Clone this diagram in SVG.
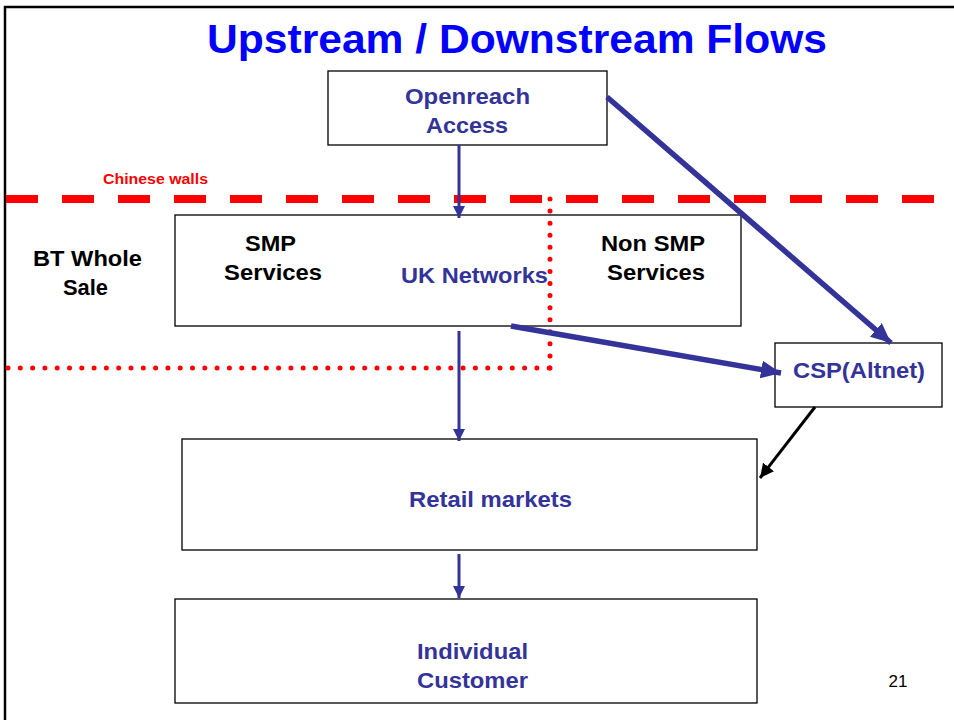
<svg xmlns="http://www.w3.org/2000/svg" width="954" height="720" viewBox="0 0 954 720">
<style>
.box{fill:#fff;stroke:#000;stroke-width:1.3}
.t{font-family:"Liberation Sans",Arial,sans-serif;font-weight:bold;font-size:22px;text-anchor:middle}
.blue{fill:#333399}
.blk{fill:#000}
.con{stroke:#333399;fill:none}
</style>
<defs>
<marker id="ah" markerUnits="userSpaceOnUse" markerWidth="14" markerHeight="12" refX="12" refY="6" orient="auto"><path d="M0,0 L12,6 L0,12 z" fill="#333399"/></marker>
<marker id="ahb" markerUnits="userSpaceOnUse" markerWidth="22" markerHeight="18" refX="20" refY="9" orient="auto"><path d="M0,0 L20,9 L0,18 z" fill="#333399"/></marker>
<marker id="ahk" markerUnits="userSpaceOnUse" markerWidth="16" markerHeight="14" refX="14" refY="7" orient="auto"><path d="M0,0 L14,7 L0,14 z" fill="#000"/></marker>
</defs>
<rect width="954" height="720" fill="#fff"/>
<path d="M5,720 V7 H954" fill="none" stroke="#000" stroke-width="2.5"/>
<text x="517" y="53" font-family="Liberation Sans,Arial,sans-serif" font-weight="bold" font-size="40" fill="#0000FF" text-anchor="middle" textLength="620" lengthAdjust="spacingAndGlyphs">Upstream / Downstream Flows</text>
<g id="bt-wholesale"><text class="t blk" x="87.5" y="266" textLength="109" lengthAdjust="spacingAndGlyphs">BT Whole</text><text class="t blk" x="85.5" y="295" textLength="45" lengthAdjust="spacingAndGlyphs">Sale</text></g>
<g id="openreach"><rect class="box" x="328" y="71" width="279" height="74"/><text class="t blue" x="467.5" y="104" textLength="125" lengthAdjust="spacingAndGlyphs">Openreach</text><text class="t blue" x="467" y="133" textLength="82" lengthAdjust="spacingAndGlyphs">Access</text></g>
<g id="uk-networks"><rect class="box" x="175" y="215" width="566" height="111"/>
<text class="t blk" x="270.5" y="251" textLength="51" lengthAdjust="spacingAndGlyphs">SMP</text><text class="t blk" x="273" y="280" textLength="98" lengthAdjust="spacingAndGlyphs">Services</text>
<text class="t blue" x="474.5" y="283" textLength="147" lengthAdjust="spacingAndGlyphs">UK Networks</text>
<text class="t blk" x="653" y="251" textLength="104" lengthAdjust="spacingAndGlyphs">Non SMP</text><text class="t blk" x="656" y="280" textLength="98" lengthAdjust="spacingAndGlyphs">Services</text></g>
<g id="csp"><rect class="box" x="775" y="343" width="167" height="64"/><text class="t blue" x="859" y="378" textLength="132" lengthAdjust="spacingAndGlyphs">CSP(Altnet)</text></g>
<g id="retail"><rect class="box" x="182" y="439" width="575" height="111"/><text class="t blue" x="490.5" y="507" textLength="163" lengthAdjust="spacingAndGlyphs">Retail markets</text></g>
<g id="customer"><rect class="box" x="175" y="599" width="582" height="104"/><text class="t blue" x="472.5" y="659" textLength="111" lengthAdjust="spacingAndGlyphs">Individual</text><text class="t blue" x="472.5" y="688" textLength="111" lengthAdjust="spacingAndGlyphs">Customer</text></g>
<text x="898" y="687" font-family="Liberation Sans,Arial,sans-serif" font-size="17" fill="#000" text-anchor="middle">21</text>
<g id="walls">
<text x="155.5" y="184" font-family="Liberation Sans,Arial,sans-serif" font-weight="bold" font-size="14" fill="#FF0000" text-anchor="middle" textLength="105" lengthAdjust="spacingAndGlyphs">Chinese walls</text>
<line x1="6" y1="199" x2="934" y2="199" stroke="#FF0000" stroke-width="8" stroke-dasharray="32 24"/>
<line x1="550" y1="199" x2="550" y2="368" stroke="#FF0000" stroke-width="5" stroke-linecap="round" stroke-dasharray="0 12.07"/>
<line x1="8" y1="368" x2="550" y2="368" stroke="#FF0000" stroke-width="5" stroke-linecap="round" stroke-dasharray="0 12.3"/>
</g>
<g id="connectors">
<line class="con" x1="459" y1="145" x2="459" y2="218" stroke-width="3" marker-end="url(#ah)"/>
<line class="con" x1="459" y1="331" x2="459" y2="441" stroke-width="3" marker-end="url(#ah)"/>
<line class="con" x1="459" y1="554" x2="459" y2="598" stroke-width="3" marker-end="url(#ah)"/>
<line class="con" x1="511" y1="326" x2="781" y2="373" stroke-width="5.5" marker-end="url(#ahb)"/>
<line class="con" x1="607" y1="97" x2="891" y2="343" stroke-width="5.5" marker-end="url(#ahb)"/>
<line x1="815" y1="407" x2="760" y2="478" stroke="#000" stroke-width="3" marker-end="url(#ahk)"/>
</g>
</svg>
